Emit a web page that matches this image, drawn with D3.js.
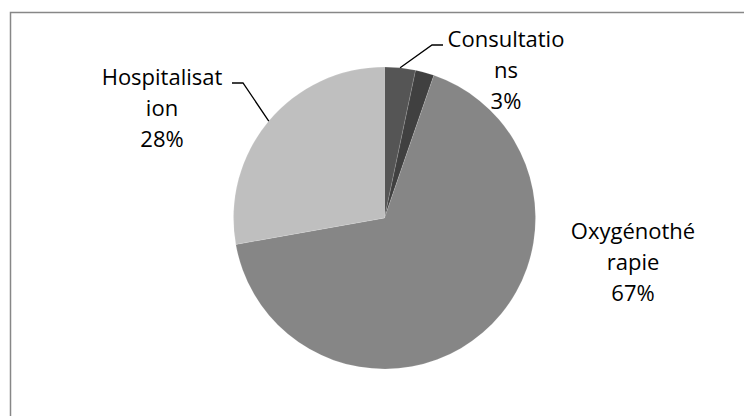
<!DOCTYPE html>
<html>
<head>
<meta charset="utf-8">
<script src="https://cdn.jsdelivr.net/npm/d3@7"></script>
<style>
  body { margin: 0; background: #fff; }
  svg text { font-family: "Open Sans", sans-serif; font-size: 22px; fill: #000; }
</style>
</head>
<body>
<svg id="chart" width="744" height="416"></svg>
<script>
// Slices, clockwise from 12 o'clock
var categories = ["Consultations", "", "Oxygénothérapie", "Hospitalisation"];
var values = [3.3, 2.0, 66.9, 27.8];
var percentLabels = ["3%", "", "67%", "28%"];
// Excel wraps the long names over two lines
var labelLines = [["Consultatio", "ns"], [], ["Oxygénothé", "rapie"], ["Hospitalisat", "ion"]];
var colors = ["#555555", "#404040", "#868686", "#bfbfbf"];

var width = 744, height = 416;
var cx = 384.5, cy = 218, radius = 151;

var svg = d3.select("#chart");

// chart area border (runs off the right and bottom of the picture)
svg.append("rect")
  .attr("x", 10.5).attr("y", 12.5)
  .attr("width", 760).attr("height", 440)
  .attr("fill", "none")
  .attr("stroke", "#878787")
  .attr("stroke-width", 1.5);

var data = categories.map(function(c, i) {
  return { name: c, value: values[i], pct: percentLabels[i], lines: labelLines[i], color: colors[i] };
});

var pie = d3.pie().sort(null).value(function(d) { return d.value; });
var arcs = pie(data);
var arc = d3.arc().innerRadius(0).outerRadius(radius);
var edge = d3.arc().innerRadius(radius).outerRadius(radius);

var g = svg.append("g").attr("transform", "translate(" + cx + "," + cy + ")");

g.selectAll("path.slice")
  .data(arcs)
  .enter()
  .append("path")
  .attr("class", "slice")
  .attr("d", arc)
  .attr("fill", function(d) { return d.data.color; })
  .attr("stroke", "#ffffff")
  .attr("stroke-opacity", 0.25)
  .attr("stroke-width", 0.5);

// label placement: text centre x, first baseline, and elbow of the leader line
var labelLayout = {
  "Consultations":   { x: 506, y: 47, elbow: [432, 45], end: [443, 45] },
  "Oxygénothérapie": { x: 633, y: 239 },
  "Hospitalisation": { x: 162, y: 85, elbow: [243, 83], end: [232, 83] }
};
var lineStep = 31;

arcs.forEach(function(a) {
  var lay = labelLayout[a.data.name];
  if (!lay) return;
  if (lay.elbow) {
    var p = edge.centroid(a);
    var pts = [[p[0] + cx, p[1] + cy], lay.elbow, lay.end];
    svg.append("path")
      .attr("d", d3.line()(pts))
      .attr("fill", "none")
      .attr("stroke", "#000")
      .attr("stroke-width", 1.3);
  }
  var lines = a.data.lines.concat([a.data.pct]);
  var t = svg.append("text").attr("text-anchor", "middle");
  lines.forEach(function(s, i) {
    t.append("tspan")
      .attr("x", lay.x)
      .attr("y", lay.y + i * lineStep)
      .text(s);
  });
});
</script>
</body>
</html>
